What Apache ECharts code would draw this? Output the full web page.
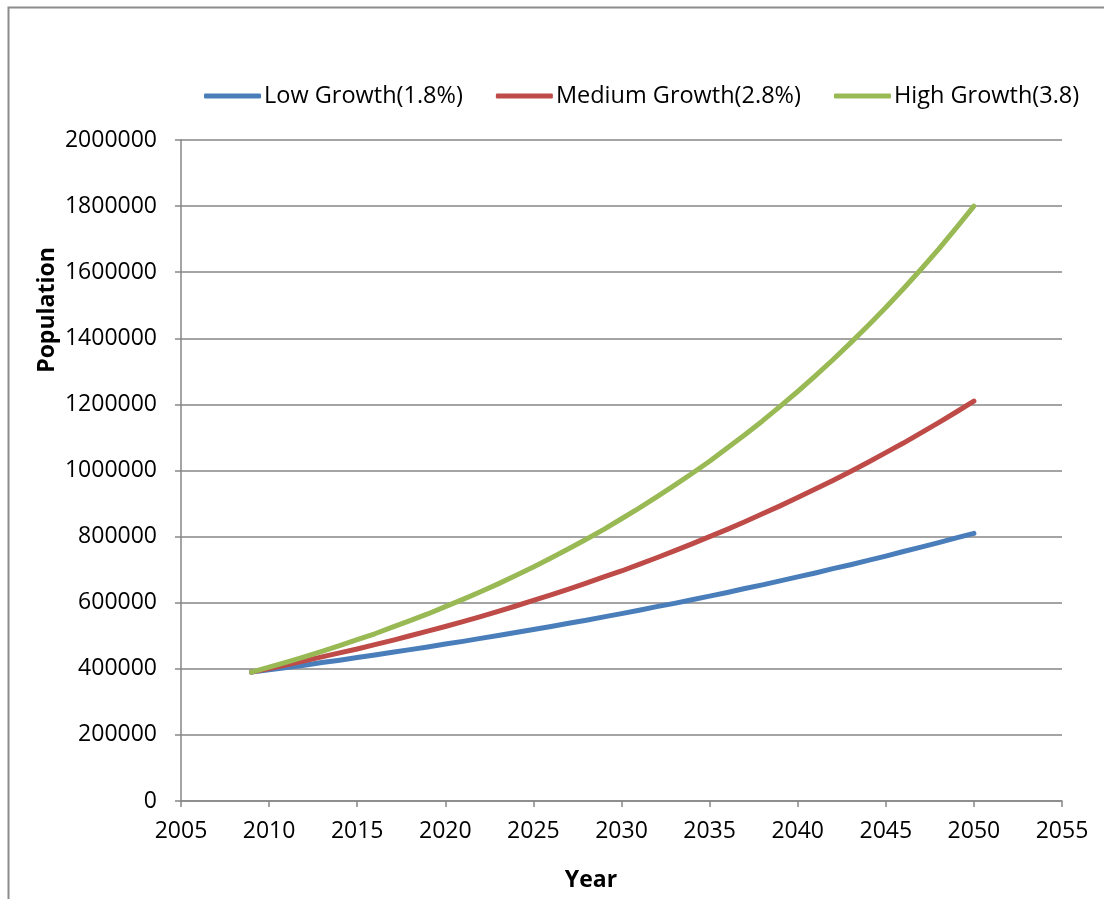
<!DOCTYPE html>
<html>
<head>
<meta charset="utf-8">
<title>Population projection</title>
<script src="https://cdn.jsdelivr.net/npm/echarts@6/dist/echarts.min.js"></script>
<style>
  html, body { margin: 0; padding: 0; background: #fff; }
  #chart { width: 1104px; height: 899px; }
</style>
</head>
<body>
<div id="chart"></div>
<script>
// Projection years (one point per year)
const years = [
  2009, 2010, 2011, 2012, 2013, 2014, 2015, 2016, 2017, 2018, 2019,
  2020, 2021, 2022, 2023, 2024, 2025, 2026, 2027, 2028, 2029,
  2030, 2031, 2032, 2033, 2034, 2035, 2036, 2037, 2038, 2039,
  2040, 2041, 2042, 2043, 2044, 2045, 2046, 2047, 2048, 2049, 2050
];

const seriesNames = ['Low Growth(1.8%)', 'Medium Growth(2.8%)', 'High Growth(3.8)'];

const lowGrowth = [
  390000, 397000, 404000, 411000, 419000, 426000, 434000, 442000, 450000, 458000, 466000,
  475000, 483000, 492000, 501000, 510000, 519000, 528000, 538000, 547000, 557000,
  567000, 577000, 588000, 598000, 609000, 620000, 631000, 643000, 654000, 666000,
  678000, 690000, 703000, 715000, 728000, 741000, 755000, 768000, 782000, 796000, 810000
];

const mediumGrowth = [
  390000, 401000, 412000, 424000, 436000, 448000, 460000, 473000, 486000, 500000, 514000,
  528000, 543000, 558000, 574000, 590000, 607000, 624000, 641000, 659000, 678000,
  696000, 716000, 736000, 757000, 778000, 800000, 822000, 845000, 869000, 893000,
  918000, 944000, 970000, 997000, 1025000, 1054000, 1083000, 1114000, 1145000, 1177000, 1210000
];

const highGrowth = [
  390000, 405000, 420000, 436000, 453000, 470000, 488000, 506000, 526000, 546000, 566000,
  588000, 610000, 633000, 657000, 682000, 708000, 735000, 763000, 792000, 822000,
  854000, 886000, 920000, 955000, 991000, 1028000, 1068000, 1108000, 1150000, 1194000,
  1239000, 1286000, 1335000, 1386000, 1439000, 1493000, 1550000, 1609000, 1670000, 1734000, 1800000
];

const seriesValues = [lowGrowth, mediumGrowth, highGrowth];
const seriesColors = ['#4a7ebb', '#be4b48', '#98b954'];

const FONT = '"Open Sans", "Liberation Sans", sans-serif';
const AXIS_GREY = '#868686';

const chart = echarts.init(document.getElementById('chart'), null, { renderer: 'canvas' });

const option = {
  backgroundColor: '#ffffff',
  animation: false,
  textStyle: { fontFamily: FONT, color: '#000' },
  grid: { left: 181, right: 42, top: 140, bottom: 98, containLabel: false },
  legend: {
    left: 199,
    top: 79,
    icon: 'roundRect',
    itemWidth: 57,
    itemHeight: 5,
    itemGap: 33,
    textStyle: { fontFamily: FONT, fontSize: 23.5, color: '#000', padding: [0, 0, 0, -2] },
    data: seriesNames
  },
  xAxis: {
    type: 'value',
    min: 2005,
    max: 2055,
    interval: 5,
    axisLine: { show: true, lineStyle: { color: AXIS_GREY, width: 1.5 } },
    axisTick: { show: true, length: 6, lineStyle: { color: AXIS_GREY, width: 1.5 } },
    splitLine: { show: false },
    axisLabel: {
      margin: 19,
      fontFamily: FONT,
      fontSize: 23,
      color: '#000',
      formatter: v => String(v)
    }
  },
  yAxis: {
    type: 'value',
    min: 0,
    max: 2000000,
    interval: 200000,
    axisLine: { show: true, lineStyle: { color: AXIS_GREY, width: 1.5 } },
    axisTick: { show: true, length: 6, lineStyle: { color: AXIS_GREY, width: 1.5 } },
    splitLine: { show: true, lineStyle: { color: AXIS_GREY, width: 1.5 } },
    axisLabel: {
      margin: 24,
      fontFamily: FONT,
      fontSize: 23,
      color: '#000',
      formatter: v => String(v)
    }
  },
  series: seriesNames.map((name, i) => ({
    name: name,
    type: 'line',
    data: years.map((yr, k) => [yr, seriesValues[i][k]]),
    showSymbol: false,
    symbol: 'none',
    smooth: false,
    color: seriesColors[i],
    lineStyle: { width: 5, color: seriesColors[i], cap: 'round', join: 'round' },
    z: 2 + i
  })),
  graphic: [
    {
      type: 'rect',
      left: 6,
      top: 5,
      shape: { width: 1110, height: 910 },
      style: { fill: 'none', stroke: '#8c8c8c', lineWidth: 2 },
      silent: true,
      z: -1
    },
    {
      type: 'text',
      x: 47,
      y: 310,
      rotation: Math.PI / 2,
      style: {
        text: 'Population',
        fontFamily: FONT,
        fontSize: 23,
        fontWeight: 'bold',
        fill: '#000',
        align: 'center',
        verticalAlign: 'middle'
      }
    },
    {
      type: 'text',
      x: 591,
      y: 880,
      style: {
        text: 'Year',
        fontFamily: FONT,
        fontSize: 23,
        fontWeight: 'bold',
        fill: '#000',
        align: 'center',
        verticalAlign: 'middle'
      }
    }
  ]
};

chart.setOption(option);
</script>
</body>
</html>
